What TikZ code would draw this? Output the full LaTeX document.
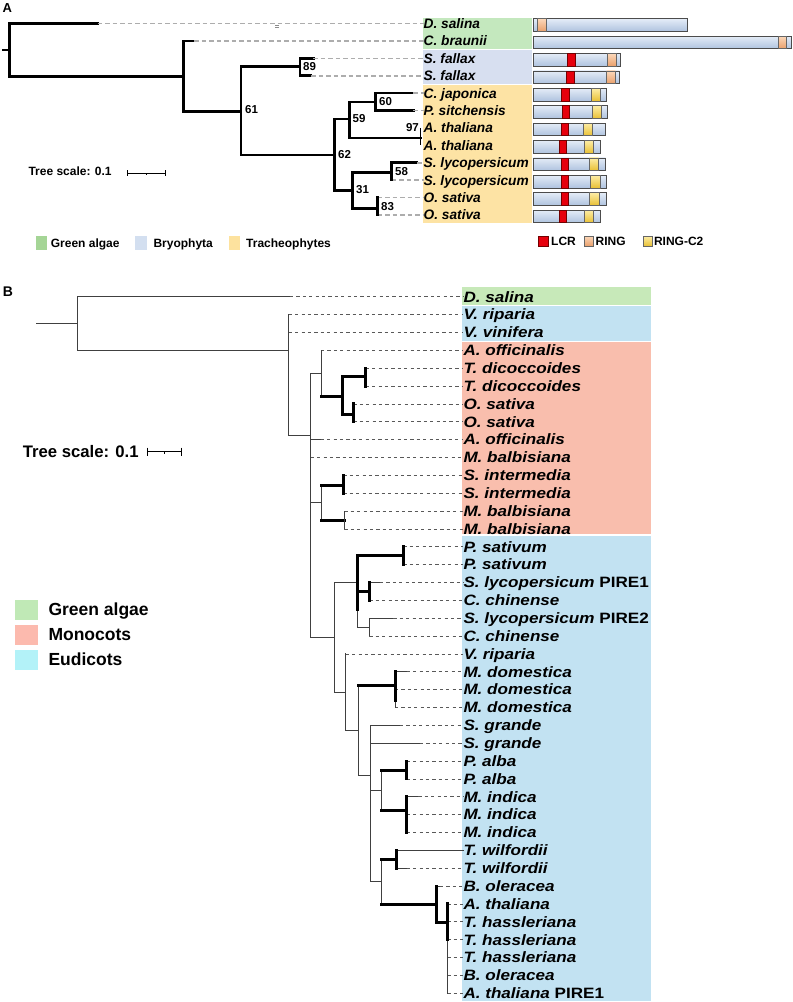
\documentclass[tikz,border=0pt]{standalone}
\usepackage{fontspec}
\setmainfont{Liberation Sans}
\newfontfamily\widefam[FakeStretch=1.14]{Liberation Sans}

\definecolor{agreen}{HTML}{C4E8BE}
\definecolor{ablue}{HTML}{D7DFF0}
\definecolor{ayellow}{HTML}{FDE3A4}
\definecolor{lagreen}{HTML}{A5D596}
\definecolor{lablue}{HTML}{D3DFF0}
\definecolor{layellow}{HTML}{FDE29E}
\definecolor{bartop}{HTML}{E4ECF7}
\definecolor{barbot}{HTML}{AFC3DF}
\definecolor{lcrred}{HTML}{E6000D}
\definecolor{ringtop}{HTML}{FCD8BA}
\definecolor{ringbot}{HTML}{E9A06C}
\definecolor{rctop}{HTML}{FDEDA6}
\definecolor{rcbot}{HTML}{E8C035}
\definecolor{bgreen}{HTML}{C7E9B9}
\definecolor{bblue}{HTML}{C2E2F2}
\definecolor{bsalmon}{HTML}{F9BEAD}
\definecolor{lbgreen}{HTML}{C0E9B6}
\definecolor{lbsalmon}{HTML}{FCBAAE}
\definecolor{lbcyan}{HTML}{B3F2F8}

\tikzset{
  abr/.style={line width=2.6pt, line cap=rect},
  alead/.style={draw=black!32, line width=1.6pt, dash pattern=on 4.5pt off 3pt},
  bbr/.style={draw=black!75, line width=0.9pt, line cap=rect},
  bbk/.style={line width=3pt, line cap=rect},
  blead/.style={draw=black!65, line width=0.75pt, dash pattern=on 3.2pt off 3.2pt},
  alab/.style={anchor=west, inner sep=0pt, text height=9.8pt, text depth=0pt,
    font=\fontsize{13.7}{15}\selectfont\bfseries\itshape},
  blab/.style={anchor=west, inner sep=0pt, text height=10.7pt, text depth=0pt,
    font=\widefam\fontsize{15}{17}\selectfont\bfseries\itshape},
  boot/.style={anchor=west, inner sep=0pt, text height=8.3pt, text depth=0pt,
    font=\fontsize{11.5}{13}\selectfont\bfseries},
  aleg/.style={anchor=west, inner sep=0pt, text height=8.6pt, text depth=0pt,
    font=\fontsize{12}{14}\selectfont\bfseries},
  bleg/.style={anchor=west, inner sep=0pt, text height=12.5pt, text depth=0pt,
    font=\fontsize{17.5}{20}\selectfont\bfseries},
  pbar/.style={draw=black!70, line width=0.7pt, top color=bartop, bottom color=barbot},
  lcr/.style={draw=red!45!black, line width=0.5pt, fill=lcrred},
  ring/.style={draw=black!60, line width=0.5pt, top color=ringtop, bottom color=ringbot},
  rctwo/.style={draw=black!60, line width=0.5pt, top color=rctop, bottom color=rcbot},
}

\begin{document}
\begin{tikzpicture}[x=1pt,y=-1pt]
  \useasboundingbox (0,0) rectangle (793,1002);
  \fill[white] (0,0) rectangle (793,1002);

  \node[anchor=base west, inner sep=0pt, font=\bfseries\fontsize{13}{15}\selectfont] (tagA) at (2.5,12.7) {A};

  \fill[agreen] (422.7,17.5) rectangle (531.7,49.3);
  \fill[ablue] (422.7,50) rectangle (531.7,84);
  \fill[ayellow] (422.7,84.7) rectangle (531.7,222.7);

  \node[alab] (a0) at (423.5,23.5) {D. salina};
  \node[alab] (a1) at (423.5,40.9) {C. braunii};
  \node[alab] (a2) at (423.5,58.3) {S. fallax};
  \node[alab] (a3) at (423.5,75.7) {S. fallax};
  \node[alab] (a4) at (423.5,93.1) {C. japonica};
  \node[alab] (a5) at (423.5,110.5) {P. sitchensis};
  \node[alab] (a6) at (423.5,127.9) {A. thaliana};
  \node[alab] (a7) at (423.5,145.3) {A. thaliana};
  \node[alab] (a8) at (423.5,162.7) {S. lycopersicum};
  \node[alab] (a9) at (423.5,180.1) {S. lycopersicum};
  \node[alab] (a10) at (423.5,197.5) {O. sativa};
  \node[alab] (a11) at (423.5,214.9) {O. sativa};

  \coordinate (aR) at (9.5,50.1);
  \coordinate (aN1) at (183.3,76.7);
  \coordinate (aN2) at (241,111.7);
  \coordinate (aN3) at (300,66.7);
  \coordinate (aN4) at (334.3,155);
  \coordinate (aN5) at (349.3,119);
  \coordinate (aN6) at (375.7,102);
  \coordinate (aN7) at (420.5,138);
  \coordinate (aN8) at (352.7,190.7);
  \coordinate (aN9) at (391.7,172.7);
  \coordinate (aN10) at (377.7,208.7);

  \draw[abr] (aR |- a0.west) -- ++(88.2,0) coordinate (a0e);
  \draw[abr] (aN1 |- a1.west) -- ++(11,0) coordinate (a1e);
  \draw[abr] (aN3 |- a2.west) -- ++(13.3,0) coordinate (a2e);
  \draw[abr] (aN3 |- a3.west) -- ++(11,0) coordinate (a3e);
  \draw[abr] (aN6 |- a4.west) -- ++(37.6,0) coordinate (a4e);
  \draw[abr] (aN6 |- a5.west) -- ++(37.6,0) coordinate (a5e);
  \draw[abr] (aN9 |- a8.west) -- ++(25.3,0) coordinate (a8e);
  \draw[alead] (a0e) -- (a0.west) (a1e) -- (a1.west) (a2e) -- (a2.west) (a3e) -- (a3.west);
  \draw[alead] (a4e) -- (a4.west) (a5e) -- (a5.west) (a8e) -- (a8.west);
  \draw[alead] (aN9 |- a9.west) -- (a9.west);
  \draw[alead] (aN10 |- a10.west) -- (a10.west) (aN10 |- a11.west) -- (a11.west);
  \draw[black!45, line width=0.6pt] (275,25.6) -- (279,25.6) (275,27.6) -- (279,27.6);

  \draw[abr] (3.3,50.1) -- (aR);
  \draw[abr] (aR |- a0.west) -- (aR |- aN1) -- (aN1);
  \draw[abr] (aN1 |- a1.west) -- (aN1 |- aN2) -- (aN2);
  \draw[abr] (aN2 |- aN3) -- (aN2 |- aN4) -- (aN4);
  \draw[abr] (aN2 |- aN3) -- (aN3);
  \draw[abr] (aN3 |- a2.west) -- (aN3 |- a3.west);
  \draw[abr] (aN4 |- aN5) -- (aN4 |- aN8) -- (aN8);
  \draw[abr] (aN4 |- aN5) -- (aN5);
  \draw[abr] (aN5 |- aN6) -- (aN5 |- aN7) -- (aN7);
  \draw[abr] (aN5 |- aN6) -- (aN6);
  \draw[abr] (aN6 |- a4.west) -- (aN6 |- a5.west);
  \draw[line width=1pt] (aN7 |- a6.west) -- (aN7 |- a7.west);
  \draw[abr] (aN8 |- aN9) -- (aN8 |- aN10) -- (aN10);
  \draw[abr] (aN8 |- aN9) -- (aN9);
  \draw[abr] (aN9 |- a8.west) -- (aN9 |- a9.west);
  \draw[abr] (aN10 |- a10.west) -- (aN10 |- a11.west);

  \node[boot] (s61) at (245,109.3) {61};
  \node[boot] (s89) at (303,66) {89};
  \node[boot] (s62) at (338,154) {62};
  \node[boot] (s59) at (352.5,118) {59};
  \node[boot] (s60) at (379,101) {60};
  \node[boot, anchor=east] (s97) at (419,127.7) {97};
  \node[boot] (s31) at (356,189) {31};
  \node[boot] (s58) at (395,171) {58};
  \node[boot] (s83) at (381,206) {83};

  \node[aleg] (ascale) at (28.3,171) {Tree scale: 0.1};
  \draw[line width=1.1pt] (127.7,173.3) -- (165.7,173.3);
  \draw[line width=1.1pt] (127.7,170.3) -- (127.7,176.3) (165.7,170.3) -- (165.7,176.3);
  \draw[line width=0.8pt] (146.7,173.3) -- (146.7,175.3);

  \draw[pbar] (533.3,18.7) rectangle (687,31.3);
  \draw[pbar] (533.3,36.1) rectangle (791,48.7);
  \draw[pbar] (533.3,53.5) rectangle (620.7,66.1);
  \draw[pbar] (533.3,70.9) rectangle (619.3,83.5);
  \draw[pbar] (533.3,88.3) rectangle (606.3,100.9);
  \draw[pbar] (533.3,105.7) rectangle (607.7,118.3);
  \draw[pbar] (533.3,123.1) rectangle (605.7,135.7);
  \draw[pbar] (533.3,140.5) rectangle (600.3,153.1);
  \draw[pbar] (533.3,157.9) rectangle (605.7,170.5);
  \draw[pbar] (533.3,175.3) rectangle (606.3,187.9);
  \draw[pbar] (533.3,192.7) rectangle (606.3,205.3);
  \draw[pbar] (533.3,210.1) rectangle (600.3,222.7);

  \draw[ring] (537.7,18.7) rectangle (546.7,31.3);
  \draw[ring] (778,36.1) rectangle (786.7,48.7);
  \draw[lcr] (567.3,53.5) rectangle (575.7,66.1);
  \draw[ring] (607.7,53.5) rectangle (616.7,66.1);
  \draw[lcr] (566.7,70.9) rectangle (574.7,83.5);
  \draw[ring] (606.7,70.9) rectangle (615.3,83.5);
  \draw[lcr] (561.7,88.3) rectangle (569,100.9);
  \draw[rctwo] (591,88.3) rectangle (600,100.9);
  \draw[lcr] (562.3,105.7) rectangle (569.3,118.3);
  \draw[rctwo] (592.7,105.7) rectangle (601.3,118.3);
  \draw[lcr] (561.3,123.1) rectangle (568.3,135.7);
  \draw[rctwo] (583.3,123.1) rectangle (592.3,135.7);
  \draw[lcr] (559.3,140.5) rectangle (566,153.1);
  \draw[rctwo] (584.7,140.5) rectangle (593.7,153.1);
  \draw[lcr] (561.3,157.9) rectangle (568.3,170.5);
  \draw[rctwo] (589.3,157.9) rectangle (598.7,170.5);
  \draw[lcr] (561.7,175.3) rectangle (568.7,187.9);
  \draw[rctwo] (590.3,175.3) rectangle (600.3,187.9);
  \draw[lcr] (561.7,192.7) rectangle (568.7,205.3);
  \draw[rctwo] (589.7,192.7) rectangle (599.3,205.3);
  \draw[lcr] (559.3,210.1) rectangle (566,222.7);
  \draw[rctwo] (584.3,210.1) rectangle (593.3,222.7);

  \fill[lagreen] (35.7,236.3) rectangle (46.7,249.7);
  \node[aleg] (lga) at (50.7,243) {Green algae};
  \fill[lablue] (135,236.3) rectangle (147,249.7);
  \node[aleg] (lgb) at (153.3,243) {Bryophyta};
  \fill[layellow] (229,236.3) rectangle (240,249.7);
  \node[aleg] (lgt) at (246,243) {Tracheophytes};
  \draw[lcr] (538.3,236) rectangle (548.3,246);
  \node[aleg] (lgl) at (551,241) {LCR};
  \draw[ring] (584.3,236) rectangle (593.3,246);
  \node[aleg] (lgr) at (595.5,241) {RING};
  \draw[rctwo] (643.3,236) rectangle (652,246);
  \node[aleg] (lgc) at (653.8,241) {RING-C2};

  \node[anchor=base west, inner sep=0pt, font=\bfseries\fontsize{14}{16}\selectfont] (tagB) at (2.7,296) {B};

  \fill[bgreen] (461.7,287.3) rectangle (650.7,304.5);
  \fill[bblue] (461.7,306) rectangle (650.7,340.5);
  \fill[bsalmon] (461.7,341.7) rectangle (650.7,534.3);
  \fill[bblue] (461.7,536) rectangle (650.7,1000.5);

  \node[blab] (b0) at (463.3,296.7) {D. salina};
  \node[blab] (b1) at (463.3,314.6) {V. riparia};
  \node[blab] (b2) at (463.3,332.4) {V. vinifera};
  \node[blab] (b3) at (463.3,350.3) {A. officinalis};
  \node[blab] (b4) at (463.3,368.1) {T. dicoccoides};
  \node[blab] (b5) at (463.3,386.0) {T. dicoccoides};
  \node[blab] (b6) at (463.3,403.9) {O. sativa};
  \node[blab] (b7) at (463.3,421.7) {O. sativa};
  \node[blab] (b8) at (463.3,439.6) {A. officinalis};
  \node[blab] (b9) at (463.3,457.4) {M. balbisiana};
  \node[blab] (b10) at (463.3,475.3) {S. intermedia};
  \node[blab] (b11) at (463.3,493.2) {S. intermedia};
  \node[blab] (b12) at (463.3,511.0) {M. balbisiana};
  \node[blab] (b13) at (463.3,528.9) {M. balbisiana};
  \node[blab] (b14) at (463.3,546.7) {P. sativum};
  \node[blab] (b15) at (463.3,564.6) {P. sativum};
  \node[blab] (b16) at (463.3,582.5) {S. lycopersicum \upshape PIRE1};
  \node[blab] (b17) at (463.3,600.3) {C. chinense};
  \node[blab] (b18) at (463.3,618.2) {S. lycopersicum \upshape PIRE2};
  \node[blab] (b19) at (463.3,636.0) {C. chinense};
  \node[blab] (b20) at (463.3,653.9) {V. riparia};
  \node[blab] (b21) at (463.3,671.8) {M. domestica};
  \node[blab] (b22) at (463.3,689.6) {M. domestica};
  \node[blab] (b23) at (463.3,707.5) {M. domestica};
  \node[blab] (b24) at (463.3,725.3) {S. grande};
  \node[blab] (b25) at (463.3,743.2) {S. grande};
  \node[blab] (b26) at (463.3,761.1) {P. alba};
  \node[blab] (b27) at (463.3,778.9) {P. alba};
  \node[blab] (b28) at (463.3,796.8) {M. indica};
  \node[blab] (b29) at (463.3,814.6) {M. indica};
  \node[blab] (b30) at (463.3,832.5) {M. indica};
  \node[blab] (b31) at (463.3,850.4) {T. wilfordii};
  \node[blab] (b32) at (463.3,868.2) {T. wilfordii};
  \node[blab] (b33) at (463.3,886.1) {B. oleracea};
  \node[blab] (b34) at (463.3,903.9) {A. thaliana};
  \node[blab] (b35) at (463.3,921.8) {T. hassleriana};
  \node[blab] (b36) at (463.3,939.7) {T. hassleriana};
  \node[blab] (b37) at (463.3,957.5) {T. hassleriana};
  \node[blab] (b38) at (463.3,975.4) {B. oleracea};
  \node[blab] (b39) at (463.3,993.2) {A. thaliana \upshape PIRE1};

  \coordinate (bR) at (77.7,323.3);
  \coordinate (bN1) at (288.7,350);
  \coordinate (bN2) at (310.7,435.7);
  \coordinate (bN3) at (321,373.3);
  \coordinate (bN5) at (342.3,396);
  \coordinate (bN6) at (365.7,376.7);
  \coordinate (bN7) at (353.3,414);
  \coordinate (bN4) at (321.7,502.3);
  \coordinate (bN8) at (343.3,485.7);
  \coordinate (bN9) at (344.3,520);
  \coordinate (bNe) at (334,637.7);
  \coordinate (bN10) at (357.3,582.3);
  \coordinate (bN11) at (403.3,555);
  \coordinate (bN12) at (369.3,591.7);
  \coordinate (bN13) at (369.3,627.3);
  \coordinate (bN14) at (345.7,692.3);
  \coordinate (bN15) at (358.3,730);
  \coordinate (bN16) at (395,685);
  \coordinate (bN17) at (370,775);
  \coordinate (bN18) at (381.7,790);
  \coordinate (bN19) at (381.7,881.7);
  \coordinate (bN20) at (406.7,770);
  \coordinate (bN21) at (406.7,810);
  \coordinate (bN22) at (396.7,859.3);
  \coordinate (bN23) at (436,904);
  \coordinate (bN24) at (447.3,922.7);

  \draw[bbr] (bR |- b0.west) -- ++(212.3,0) coordinate (b0e);
  \draw[bbr] (bN2 |- b8.west) -- ++(10,0) coordinate (b8e);
  \draw[bbr] (bN12 |- b16.west) -- ++(10.7,0) coordinate (b16e);
  \draw[bbr] (bN13 |- b18.west) -- ++(24,0) coordinate (b18e);
  \draw[bbr] (bN16 |- b21.west) -- ++(11.7,0) coordinate (b21e);
  \draw[bbr] (bN17 |- b24.west) -- ++(30,0) coordinate (b24e);
  \draw[bbr] (bN17 |- b25.west) -- ++(50,0) coordinate (b25e);
  \draw[bbr] (bN21 |- b28.west) -- ++(11.6,0) coordinate (b28e);
  \draw[bbr] (bN22 |- b31.west) -- (b31.west);
  \draw[bbr] (bN22 |- b32.west) -- ++(10,0) coordinate (b32e);
  \draw[bbr] (bN23 |- b33.west) -- ++(4,0) coordinate (b33e);

  \draw[blead] (b0e) -- (b0.west) (bN1 |- b1.west) -- (b1.west) (bN1 |- b2.west) -- (b2.west);
  \draw[blead] (bN3 |- b3.west) -- (b3.west) (bN6 |- b4.west) -- (b4.west) (bN6 |- b5.west) -- (b5.west);
  \draw[blead] (bN7 |- b6.west) -- (b6.west) (bN7 |- b7.west) -- (b7.west);
  \draw[blead] (b8e) -- (b8.west) (bN2 |- b9.west) -- (b9.west);
  \draw[blead] (bN8 |- b10.west) -- (b10.west) (bN8 |- b11.west) -- (b11.west);
  \draw[blead] (bN9 |- b12.west) -- (b12.west) (bN9 |- b13.west) -- (b13.west);
  \draw[blead] (bN11 |- b14.west) -- (b14.west) (bN11 |- b15.west) -- (b15.west);
  \draw[blead] (b16e) -- (b16.west) (bN12 |- b17.west) -- (b17.west);
  \draw[blead] (b18e) -- (b18.west) (bN13 |- b19.west) -- (b19.west);
  \draw[blead] (bN14 |- b20.west) -- (b20.west);
  \draw[blead] (b21e) -- (b21.west) (bN16 |- b22.west) -- (b22.west) (bN16 |- b23.west) -- (b23.west);
  \draw[blead] (b24e) -- (b24.west) (b25e) -- (b25.west);
  \draw[blead] (bN20 |- b26.west) -- (b26.west) (bN20 |- b27.west) -- (b27.west);
  \draw[blead] (b28e) -- (b28.west) (bN21 |- b29.west) -- (b29.west) (bN21 |- b30.west) -- (b30.west);
  \draw[blead] (b32e) -- (b32.west) (b33e) -- (b33.west);
  \draw[blead] (bN24 |- b34.west) -- (b34.west) (bN24 |- b35.west) -- (b35.west) (bN24 |- b36.west) -- (b36.west);
  \draw[blead] (bN24 |- b37.west) -- (b37.west) (bN24 |- b38.west) -- (b38.west) (bN24 |- b39.west) -- (b39.west);

  \draw[bbr] (36,323.3) -- (bR);
  \draw[bbr] (bR |- b0.west) -- (bR |- bN1) -- (bN1);
  \draw[bbr] (bN1 |- b1.west) -- (bN1 |- bN2) -- (bN2);
  \draw[bbr] (bN2 |- bN3) -- (bN2 |- bNe) -- (bNe);
  \draw[bbr] (bN2 |- bN3) -- (bN3);
  \draw[bbr] (bN2 |- bN4) -- (bN4);
  \draw[bbr] (bN3 |- b3.west) -- (bN3 |- bN5);
  \draw[bbk] (bN3 |- bN5) -- (bN5);
  \draw[bbk] (bN5 |- bN6) -- (bN5 |- bN7) -- (bN7);
  \draw[bbk] (bN5 |- bN6) -- (bN6);
  \draw[bbk] (bN6 |- b4.west) -- (bN6 |- b5.west);
  \draw[bbk] (bN7 |- b6.west) -- (bN7 |- b7.west);
  \draw[bbr] (bN4 |- bN8) -- (bN4 |- bN9);
  \draw[bbk] (bN4 |- bN8) -- (bN8);
  \draw[bbk] (bN4 |- bN9) -- (bN9);
  \draw[bbk] (bN8 |- b10.west) -- (bN8 |- b11.west);
  \draw[bbr] (bN9 |- b12.west) -- (bN9 |- b13.west);

  \draw[bbr] (bNe |- bN10) -- (bNe |- bN14) -- (bN14);
  \draw[bbr] (bNe |- bN10) -- (bN10);
  \draw[bbr] (357.3,609) -- (bN10 |- bN13) -- (bN13);
  \draw[bbk] (bN10 |- bN11) -- (357.3,609);
  \draw[bbk] (bN10 |- bN11) -- (bN11);
  \draw[bbk] (bN10 |- bN12) -- (bN12);
  \draw[bbk] (bN11 |- b14.west) -- (bN11 |- b15.west);
  \draw[bbk] (bN12 |- b16.west) -- (bN12 |- b17.west);
  \draw[bbr] (bN13 |- b18.west) -- (bN13 |- b19.west);
  \draw[bbr] (bN14 |- b20.west) -- (bN14 |- bN15) -- (bN15);
  \draw[bbr] (bN15 |- bN16) -- (bN15 |- bN17) -- (bN17);
  \draw[bbk] (bN15 |- bN16) -- (bN16);
  \draw[bbr] (395,700) -- (bN16 |- b23.west);
  \draw[bbk] (bN16 |- b21.west) -- (395,700);
  \draw[bbr] (bN17 |- b24.west) -- (bN17 |- bN19) -- (bN19);
  \draw[bbr] (bN17 |- bN18) -- (bN18);
  \draw[bbr] (bN18 |- bN20) -- (bN18 |- bN21);
  \draw[bbk] (bN18 |- bN20) -- (bN20);
  \draw[bbk] (bN18 |- bN21) -- (bN21);
  \draw[bbk] (bN20 |- b26.west) -- (bN20 |- b27.west);
  \draw[bbk] (bN21 |- b28.west) -- (bN21 |- b30.west);
  \draw[bbr] (bN19 |- bN22) -- (bN19 |- bN23);
  \draw[bbk] (bN19 |- bN22) -- (bN22);
  \draw[bbk] (bN19 |- bN23) -- (bN23);
  \draw[bbk] (bN22 |- b31.west) -- (bN22 |- b32.west);
  \draw[bbk] (bN23 |- b33.west) -- (bN23 |- bN24) -- (bN24);
  \draw[bbr] (bN24 |- b36.west) -- (bN24 |- b39.west);
  \draw[bbk] (bN24 |- b34.west) -- (bN24 |- b36.west);

  \node[anchor=west, inner sep=0pt, text height=12pt, text depth=0pt,
    font=\fontsize{16.7}{19}\selectfont\bfseries] (bscale) at (22.7,451) {Tree scale: 0.1};
  \draw[line width=1.5pt] (147.7,451.7) -- (181.7,451.7);
  \draw[line width=1.5pt] (147.7,447.7) -- (147.7,455.7) (181.7,447.7) -- (181.7,455.7);
  \draw[line width=1pt] (164.3,451.7) -- (164.3,454.2);

  \fill[lbgreen] (15,600) rectangle (38.3,620);
  \node[bleg] (lg1) at (48.3,609.3) {Green algae};
  \fill[lbsalmon] (15,625) rectangle (38.3,645);
  \node[bleg] (lg2) at (48.3,634.3) {Monocots};
  \fill[lbcyan] (15,650) rectangle (38.3,670);
  \node[bleg] (lg3) at (48.3,659) {Eudicots};
\end{tikzpicture}
\end{document}
